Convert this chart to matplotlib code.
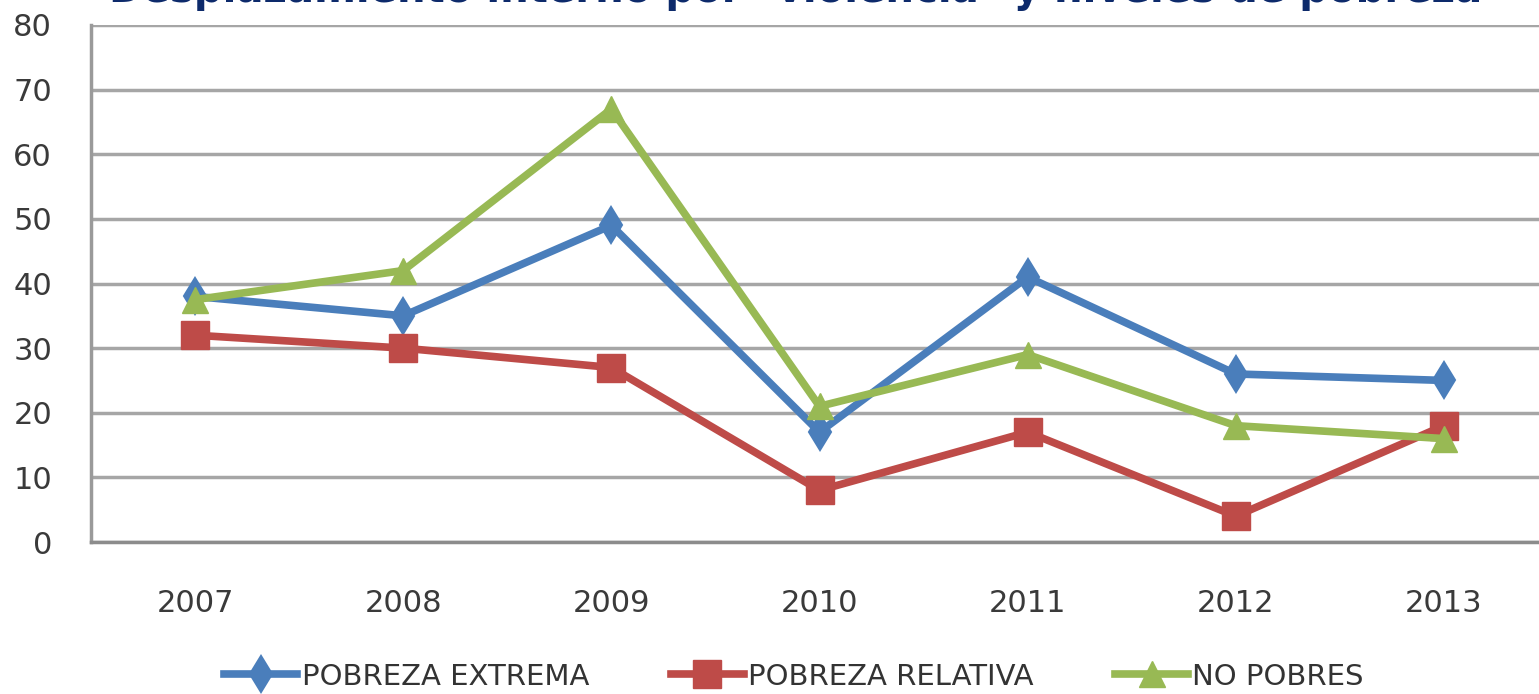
import matplotlib.pyplot as plt

years = ['2007', '2008', '2009', '2010', '2011', '2012', '2013']
pobreza_extrema = [38, 35, 49, 17, 41, 26, 25]
pobreza_relativa = [32, 30, 27, 8, 17, 4, 18]
no_pobres = [37.5, 42, 67, 21, 29, 18, 16]

fig = plt.figure(figsize=(15.39, 6.94), dpi=100)
ax = fig.add_axes([91 / 1539, 152 / 694, 1457 / 1539, 517 / 694])

x = range(len(years))
ax.plot(x, pobreza_extrema, color='#4a7ebb', lw=5.5, marker='d', ms=18, mew=1.5,
        label='POBREZA EXTREMA', zorder=3)
ax.plot(x, pobreza_relativa, color='#be4b48', lw=5.5, marker='s', ms=20,
        label='POBREZA RELATIVA', zorder=4)
ax.plot(x, no_pobres, color='#98b954', lw=5.5, marker='^', ms=19,
        label='NO POBRES', zorder=5)

ax.set_xlim(-0.5, len(years) - 0.5)
ax.set_ylim(0, 80)
ax.set_yticks(range(0, 81, 10))
ax.set_xticks(list(x))
ax.set_xticklabels(years)
ax.grid(axis='y', color='#a6a6a6', lw=2.5)
ax.set_axisbelow(True)
ax.tick_params(length=0, labelsize=22, labelcolor='#3a3a3a')
ax.tick_params(axis='x', pad=34)
ax.tick_params(axis='y', pad=28)
for s in ['top', 'right']:
    ax.spines[s].set_visible(False)
ax.spines['left'].set_color('#9a9a9a')
ax.spines['left'].set_linewidth(2.5)
ax.spines['bottom'].set_color('#8c8c8c')
ax.spines['bottom'].set_linewidth(2.5)

fig.text(0.517, 0.9965, 'Desplazamiento interno por "violencia" y niveles de pobreza',
         ha='center', va='baseline', fontsize=29, fontweight='bold', color='#0d2a6b')

fig.legend(loc='center', bbox_to_anchor=(0.516, 0.025), ncol=3, frameon=False,
           fontsize=21, handlelength=2.5, handletextpad=0.15, columnspacing=2.8,
           labelcolor='#333333')

fig.savefig('out.png', dpi=100)
